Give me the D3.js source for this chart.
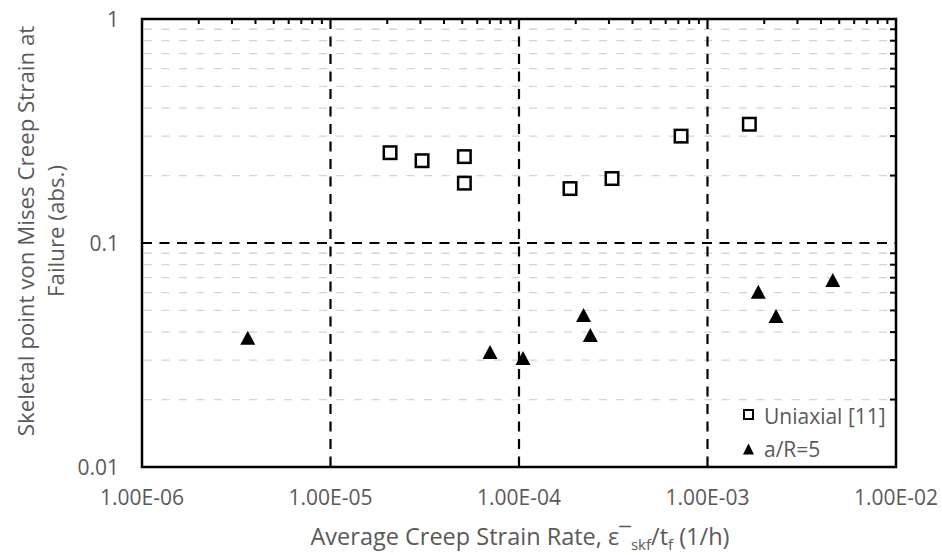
<!DOCTYPE html>
<html>
<head>
<meta charset="utf-8">
<script src="https://cdn.jsdelivr.net/npm/d3@7"></script>
<style>
  body { margin: 0; background: #fff; }
  text { font-family: "Open Sans", "Liberation Sans", sans-serif; }
</style>
</head>
<body>
<svg id="chart" width="942" height="555"></svg>
<script>
// データ
const uniaxialRate = [2.07e-5, 3.06e-5, 5.13e-5, 5.13e-5, 1.865e-4, 3.115e-4, 7.24e-4, 1.667e-3];
const uniaxialStrain = [0.253, 0.233, 0.243, 0.185, 0.175, 0.194, 0.300, 0.339];
const aR5Rate = [3.64e-6, 7.02e-5, 1.05e-4, 2.2e-4, 2.39e-4, 1.86e-3, 2.31e-3, 4.62e-3];
const aR5Strain = [0.0378, 0.0326, 0.0307, 0.0477, 0.0388, 0.0606, 0.0472, 0.0684];
const xTicks = [1e-6, 1e-5, 1e-4, 1e-3, 1e-2];
const xTickLabels = ["1.00E-06", "1.00E-05", "1.00E-04", "1.00E-03", "1.00E-02"];
const yTicks = [0.01, 0.1, 1];
const yTickLabels = ["0.01", "0.1", "1"];
const seriesNames = ["Uniaxial [11]", "a/R=5"];

const m = { left: 142, right: 896, top: 19, bottom: 467 };
const svg = d3.select("#chart");
const grey = "#595959";

const x = d3.scaleLog().domain([1e-6, 1e-2]).range([m.left, m.right]);
const y = d3.scaleLog().domain([0.01, 1]).range([m.bottom, m.top]);

// 小目盛 (2..9)
const minorX = [], minorY = [];
for (let e = -6; e < -2; e++) for (let k = 2; k <= 9; k++) minorX.push(k * Math.pow(10, e));
for (let e = -2; e < 0; e++) for (let k = 2; k <= 9; k++) minorY.push(k * Math.pow(10, e));

// 補助グリッド線
svg.append("g").selectAll("line")
  .data(minorY).join("line")
  .attr("x1", m.left + 2).attr("x2", m.right)
  .attr("y1", d => y(d)).attr("y2", d => y(d))
  .attr("stroke", "#d4d4d4").attr("stroke-width", 1.3)
  .attr("stroke-dasharray", "8,9.5");

// 主グリッド線（破線）
svg.append("g").selectAll("line")
  .data(xTicks.slice(1, -1)).join("line")
  .attr("x1", d => x(d)).attr("x2", d => x(d))
  .attr("y1", m.top).attr("y2", m.bottom)
  .attr("stroke", "#000").attr("stroke-width", 2.2)
  .attr("stroke-dasharray", "10,7.5");
svg.append("g").selectAll("line")
  .data(yTicks.slice(1, -1)).join("line")
  .attr("x1", m.left).attr("x2", m.right)
  .attr("y1", d => y(d)).attr("y2", d => y(d))
  .attr("stroke", "#000").attr("stroke-width", 2.2)
  .attr("stroke-dasharray", "10,7.5");

// 上辺・右辺の目盛
svg.append("g").selectAll("line")
  .data(minorX).join("line")
  .attr("x1", d => x(d)).attr("x2", d => x(d))
  .attr("y1", m.top).attr("y2", m.top + 5)
  .attr("stroke", "#000").attr("stroke-width", 2);
svg.append("g").selectAll("line")
  .data(minorY).join("line")
  .attr("x1", m.right - 6).attr("x2", m.right)
  .attr("y1", d => y(d)).attr("y2", d => y(d))
  .attr("stroke", "#000").attr("stroke-width", 2);

// 凡例背景
const lg = { x: 735, y: 403 };
svg.append("rect")
  .attr("x", lg.x).attr("y", lg.y)
  .attr("width", m.right - lg.x).attr("height", m.bottom - lg.y)
  .attr("fill", "#fff");

// 枠
svg.append("rect")
  .attr("x", m.left).attr("y", m.top)
  .attr("width", m.right - m.left).attr("height", m.bottom - m.top)
  .attr("fill", "none").attr("stroke", "#000").attr("stroke-width", 2.5);

// 目盛ラベル
svg.append("g").selectAll("text")
  .data(xTicks).join("text")
  .attr("x", d => x(d)).attr("y", 505)
  .attr("text-anchor", "middle")
  .attr("font-size", 21).attr("fill", grey)
  .text((d, i) => xTickLabels[i]);
svg.append("g").selectAll("text")
  .data(yTicks).join("text")
  .attr("x", 119).attr("y", d => y(d) + 8)
  .attr("text-anchor", "end")
  .attr("font-size", 21).attr("fill", grey)
  .text((d, i) => yTickLabels[i]);

// 軸タイトル
const yt = svg.append("text")
  .attr("transform", "translate(0,231) rotate(-90)")
  .attr("text-anchor", "middle")
  .attr("font-size", 22.3).attr("fill", grey);
yt.append("tspan").attr("x", 0).attr("y", 34).text("Skeletal point von Mises Creep Strain at");
yt.append("tspan").attr("x", 0).attr("y", 64).text("Failure (abs.)");

const xt = svg.append("text")
  .attr("x", 520).attr("y", 545)
  .attr("text-anchor", "middle")
  .attr("font-size", 23.5).attr("fill", grey);
xt.append("tspan").text("Average Creep Strain Rate, ε¯");
xt.append("tspan").attr("dy", 5).attr("font-size", 15).text("skf");
xt.append("tspan").attr("dy", -5).text("/t");
xt.append("tspan").attr("dy", 5).attr("font-size", 15).text("f");
xt.append("tspan").attr("dy", -5).text(" (1/h)");

// マーカー
const sq = 12.5;
svg.append("g").selectAll("rect")
  .data(uniaxialRate.map((r, i) => [r, uniaxialStrain[i]])).join("rect")
  .attr("x", d => x(d[0]) - sq / 2).attr("y", d => y(d[1]) - sq / 2)
  .attr("width", sq).attr("height", sq)
  .attr("fill", "#fff").attr("stroke", "#000").attr("stroke-width", 2.5);

const triPath = (w, h) => `M0,${-h / 2}L${w / 2},${h / 2}L${-w / 2},${h / 2}Z`;
svg.append("g").selectAll("path")
  .data(aR5Rate.map((r, i) => [r, aR5Strain[i]])).join("path")
  .attr("transform", d => `translate(${x(d[0])},${y(d[1])})`)
  .attr("d", triPath(15, 14)).attr("fill", "#000");

// 凡例
const leg = svg.append("g");
leg.append("rect")
  .attr("x", 744).attr("y", 410).attr("width", 9).attr("height", 9)
  .attr("fill", "#fff").attr("stroke", "#000").attr("stroke-width", 2);
leg.append("path")
  .attr("transform", "translate(748.5,449)")
  .attr("d", triPath(11, 11)).attr("fill", "#000");
leg.selectAll("text")
  .data(seriesNames).join("text")
  .attr("x", 764).attr("y", (d, i) => 424 + i * 33)
  .attr("font-size", 21).attr("fill", grey)
  .text(d => d);
</script>
</body>
</html>
